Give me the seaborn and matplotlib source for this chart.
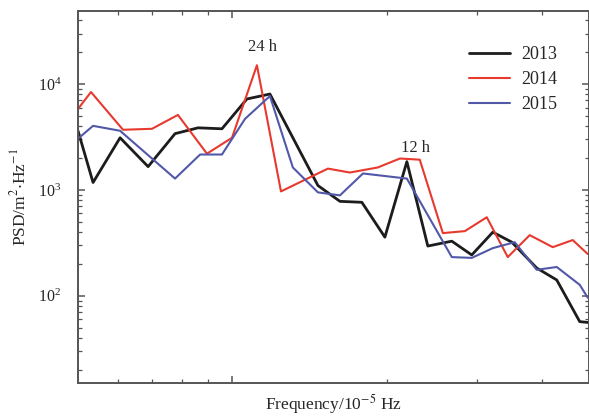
import pandas as pd
import matplotlib
matplotlib.use("Agg")
import matplotlib.pyplot as plt
import matplotlib.ticker as mticker
import seaborn as sns

# values (frequency in 1e-5 Hz, PSD in m^2/Hz)
freq_2013 = [0.502, 0.537, 0.606, 0.687, 0.775, 0.859, 0.956, 1.069, 1.185, 1.469,
             1.621, 1.788, 1.982, 2.187, 2.402, 2.674, 2.924, 3.213, 3.498, 3.910,
             4.277, 4.740, 4.913]
psd_2013 = [3620, 1175, 3110, 1660, 3400, 3860, 3780, 7230, 8050, 1100,
            780, 764, 358, 1850, 295, 328, 243, 399, 321, 183,
            141, 57, 56]

freq_2014 = [0.502, 0.532, 0.614, 0.699, 0.785, 0.894, 1.0, 1.118, 1.245, 1.536,
             1.695, 1.920, 2.120, 2.317, 2.569, 2.835, 3.127, 3.435, 3.790, 4.201,
             4.594, 4.913]
psd_2014 = [5820, 8410, 3700, 3780, 5110, 2200, 3110, 15070, 968, 1590,
            1460, 1630, 1980, 1930, 391, 408, 552, 232, 374, 288,
            336, 248]

freq_2015 = [0.502, 0.537, 0.606, 0.775, 0.867, 0.956, 1.060, 1.185, 1.313, 1.469,
             1.621, 1.797, 2.187, 2.674, 2.924, 3.213, 3.544, 3.910, 4.277, 4.740,
             4.913]
psd_2015 = [3050, 4030, 3620, 1280, 2160, 2160, 4690, 7710, 1630, 948,
            888, 1430, 1280, 232, 228, 282, 321, 176, 187, 127,
            96]

years = ["2013", "2014", "2015"]
colors = {"2013": "#1c1c1c", "2014": "#e8392e", "2015": "#5158a8"}
widths = {"2013": 2.0, "2014": 1.5, "2015": 1.5}

df = pd.concat([
    pd.DataFrame({"freq": freq_2013, "psd": psd_2013, "year": "2013"}),
    pd.DataFrame({"freq": freq_2014, "psd": psd_2014, "year": "2014"}),
    pd.DataFrame({"freq": freq_2015, "psd": psd_2015, "year": "2015"}),
])

sns.set_theme(style="ticks")
plt.rcParams["font.family"] = ["Liberation Serif", "DejaVu Serif"]
plt.rcParams["mathtext.fontset"] = "stix"

fig = plt.figure(figsize=(5.89, 4.16), dpi=100)
ax = fig.add_axes([78 / 589, 1 - 383 / 416, 510.5 / 589, 372 / 416])

for y in years:
    sub = df[df["year"] == y]
    sns.lineplot(data=sub, x="freq", y="psd", ax=ax, color=colors[y],
                 linewidth=widths[y], label=y, estimator=None, sort=False)

ax.set_xscale("log")
ax.set_yscale("log")
ax.set_xlim(0.502, 4.93)
ax.set_ylim(15, 4.9e4)

ax.xaxis.set_major_locator(mticker.FixedLocator([1]))
ax.xaxis.set_minor_locator(mticker.FixedLocator([0.6, 0.7, 0.8, 0.9, 2, 3, 4]))
ax.xaxis.set_major_formatter(mticker.NullFormatter())
ax.xaxis.set_minor_formatter(mticker.NullFormatter())
ax.yaxis.set_major_locator(mticker.LogLocator(base=10))
ax.yaxis.set_minor_locator(mticker.LogLocator(base=10, subs=range(2, 10)))
ax.yaxis.set_minor_formatter(mticker.NullFormatter())

ax.tick_params(which="both", direction="in", top=True, right=True,
               color="#555555", labelsize=11.5)
ax.tick_params(axis="y", pad=12)
ax.tick_params(which="major", length=5, width=1.1)
ax.tick_params(which="minor", length=3, width=0.9)
for s in ax.spines.values():
    s.set_color("#555555")
    s.set_linewidth(1.4)

ax.set_xlabel(r"Frequency/10$^{-5}$ Hz", fontsize=12.5, labelpad=3)
ax.set_ylabel(r"PSD/m$^{2}$$\cdot$Hz$^{-1}$", fontsize=12.5, labelpad=6)

ax.text(1.145, 1.9e4, "24 h", fontsize=12, ha="center", va="bottom")
ax.text(2.27, 2.1e3, "12 h", fontsize=12, ha="center", va="bottom")

leg = ax.legend(loc="upper right", bbox_to_anchor=(0.97, 0.95), frameon=False,
                fontsize=13, handlelength=2.3, handletextpad=0.6, labelspacing=0.45)

fig.savefig("out.png", dpi=100)
